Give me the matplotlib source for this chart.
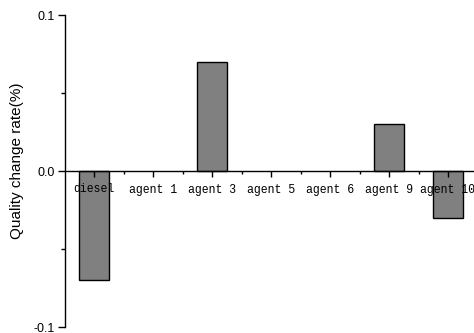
import matplotlib
matplotlib.use("Agg")
import matplotlib.pyplot as plt
from matplotlib.ticker import FixedLocator

categories = ["diesel", "agent 1", "agent 3", "agent 5", "agent 6", "agent 9", "agent 10"]
values = [-0.07, 0.0, 0.07, 0.0, 0.0, 0.03, -0.03]
yticks = [-0.1, 0.0, 0.1]
ytick_labels = ["-0.1", "0.0", "0.1"]

fig = plt.figure(figsize=(4.74, 3.33), dpi=100)
ax = fig.add_axes([64.5/474, 6/333, 413/474, 312/333])

x = list(range(len(categories)))
bx = [i for i, v in zip(x, values) if v != 0]
bv = [v for v in values if v != 0]
ax.bar(bx, bv, width=0.5, color="#808080", edgecolor="black", linewidth=1.0, zorder=1)

ax.set_xlim(-0.5, len(categories) - 0.5)
ax.set_ylim(-0.1, 0.1)

for s in ["top", "right"]:
    ax.spines[s].set_visible(False)
ax.spines["bottom"].set_position(("data", 0))
ax.spines["bottom"].set_zorder(3)
ax.spines["left"].set_linewidth(1.0)
ax.spines["bottom"].set_linewidth(1.0)

ax.set_xticks(x)
ax.set_xticklabels(categories, family="Liberation Mono", fontsize=8.3)
ax.xaxis.set_minor_locator(FixedLocator([i + 0.5 for i in x]))
ax.tick_params(axis="x", which="major", direction="out", length=4.5, width=1, pad=4.5)
ax.tick_params(axis="x", which="minor", direction="out", length=2.5, width=1)

ax.set_yticks(yticks)
ax.set_yticklabels(ytick_labels, family="Liberation Sans", fontsize=9)
ax.yaxis.set_minor_locator(FixedLocator([-0.05, 0.05]))
ax.tick_params(axis="y", which="major", direction="out", length=5, width=1, pad=2)
ax.tick_params(axis="y", which="minor", direction="out", length=3, width=1)

ax.set_ylabel("Quality change rate(%)", family="Liberation Sans", fontsize=11)
ax.yaxis.set_label_coords(-0.098, 0.532)

fig.savefig("out.png", dpi=100)
